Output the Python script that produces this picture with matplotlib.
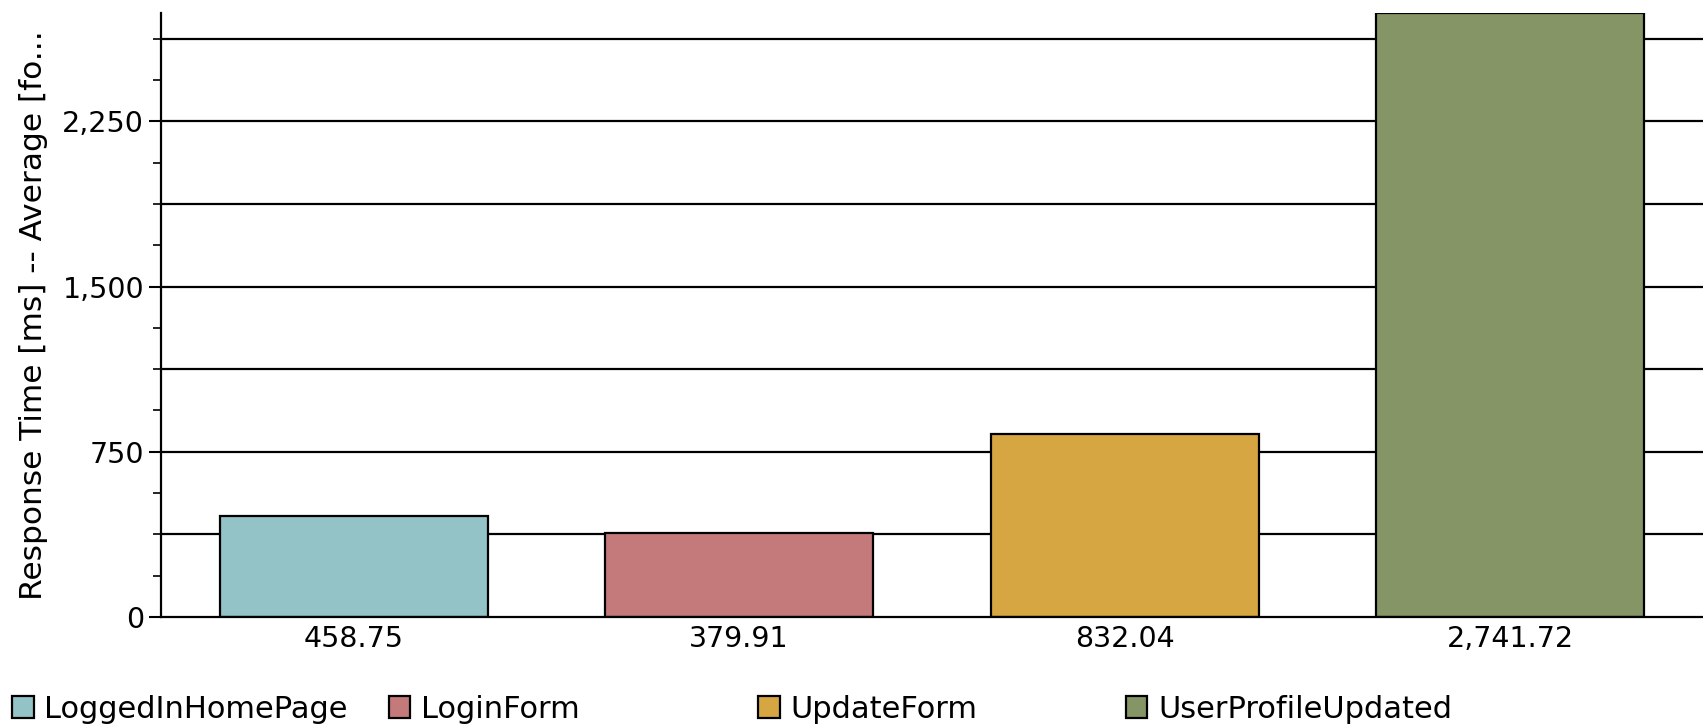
import matplotlib
matplotlib.use("Agg")
import matplotlib.pyplot as plt
from matplotlib.ticker import MultipleLocator, FuncFormatter

categories = ["LoggedInHomePage", "LoginForm", "UpdateForm", "UserProfileUpdated"]
values = [458.75, 379.91, 832.04, 2741.72]
tick_labels = ["458.75", "379.91", "832.04", "2,741.72"]
colors = ["#93C3C6", "#C47A7A", "#D5A642", "#859565"]
y_label = "Response Time [ms] -- Average [fo..."

plt.rcParams['font.family'] = ['DejaVu Sans']
FS = 22
TFS = 20.5

fig = plt.figure(figsize=(17.03, 7.28), dpi=100)
ax = fig.add_axes([0.0944, 0.1525, 0.9056, 0.8297])

x = list(range(len(categories)))
bars = ax.bar(x, values, width=0.695, color=colors, edgecolor="black",
              linewidth=1.6, zorder=3)

ax.set_xlim(-0.5, 3.5)
ax.set_ylim(0, max(values))
ax.set_xticks(x)
ax.set_xticklabels(tick_labels, fontsize=TFS)
ax.tick_params(axis='x', length=0, pad=6)

ax.yaxis.set_major_locator(MultipleLocator(750))
ax.yaxis.set_minor_locator(MultipleLocator(187.5))
ax.yaxis.set_major_formatter(FuncFormatter(lambda v, p: f"{v:,.0f}"))
ax.tick_params(axis='y', which='major', length=9, width=1.5, labelsize=TFS, pad=3)
ax.tick_params(axis='y', which='minor', length=6, width=1.2)

for gy in range(375, int(max(values)) + 1, 375):
    ax.axhline(gy, color="black", linewidth=1.6, zorder=1)

for s in ["top", "right"]:
    ax.spines[s].set_visible(False)
ax.spines["left"].set_linewidth(1.6)
ax.spines["bottom"].set_linewidth(1.6)
ax.spines["bottom"].set_zorder(4)

ax.set_ylabel(y_label, fontsize=22.5, labelpad=10)

legend_x = [0.0, 0.221, 0.438, 0.654]
for bx, bar, cat in zip(legend_x, bars, categories):
    fig.legend([bar], [cat], loc="center left", bbox_to_anchor=(bx, 0.026),
               frameon=False, fontsize=FS, handlelength=0.7, handleheight=0.7,
               handletextpad=0.35, borderaxespad=0)

fig.savefig("out.png", dpi=100)
